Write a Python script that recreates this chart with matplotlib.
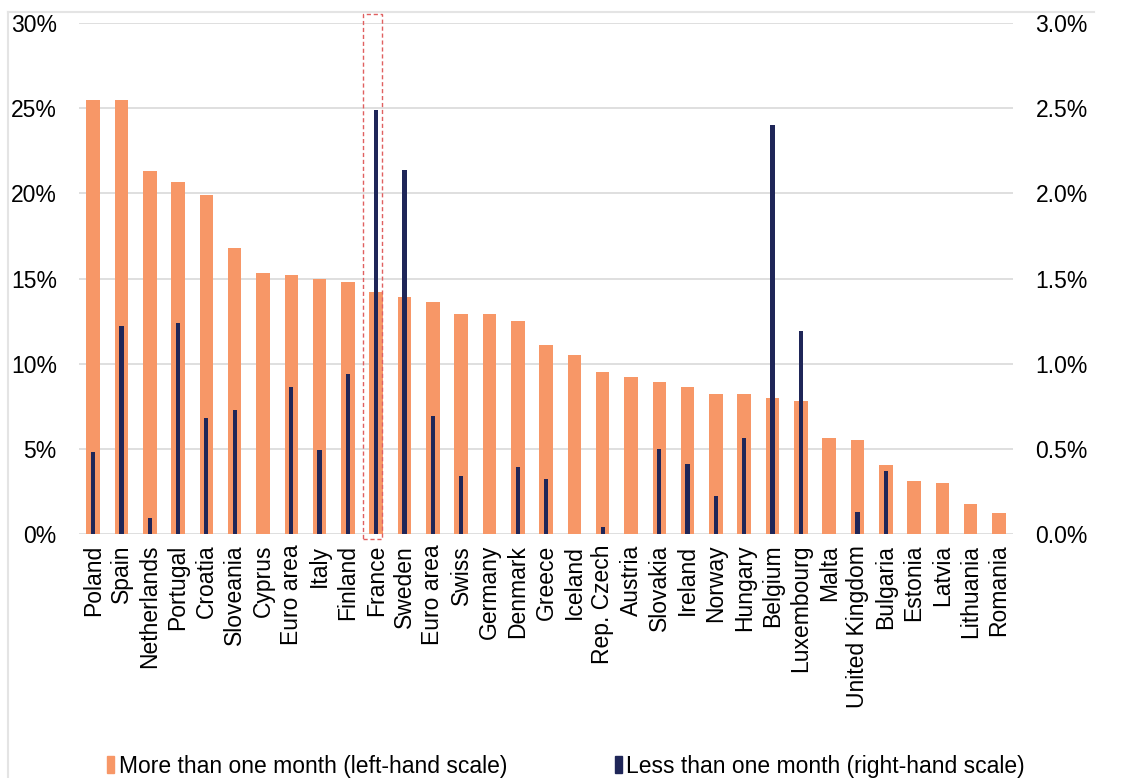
import matplotlib
matplotlib.use("Agg")
import matplotlib.pyplot as plt
from matplotlib.patches import Rectangle, Patch
from matplotlib.lines import Line2D
from matplotlib.ticker import FuncFormatter

plt.rcParams['font.family'] = ['Liberation Sans', 'DejaVu Sans']

countries = ["Poland", "Spain", "Netherlands", "Portugal", "Croatia", "Sloveania",
             "Cyprus", "Euro area", "Italy", "Finland", "France", "Sweden",
             "Euro area", "Swiss", "Germany", "Denmark", "Greece", "Iceland",
             "Rep. Czech", "Austria", "Slovakia", "Ireland", "Norway", "Hungary",
             "Belgium", "Luxembourg", "Malta", "United Kingdom", "Bulgaria",
             "Estonia", "Latvia", "Lithuania", "Romania"]

# more than one month, % (left-hand scale)
more_month = [25.5, 25.5, 21.3, 20.7, 19.9, 16.8, 15.3, 15.2, 15.0, 14.8, 14.2,
              13.9, 13.6, 12.9, 12.9, 12.5, 11.1, 10.5, 9.5, 9.2, 8.9, 8.6, 8.2,
              8.2, 8.0, 7.8, 5.6, 5.5, 4.05, 3.07, 3.0, 1.72, 1.24]

# less than one month, % (right-hand scale)
less_month = [0.48, 1.22, 0.09, 1.24, 0.68, 0.73, 0.0, 0.86, 0.49, 0.94, 2.49,
              2.14, 0.69, 0.34, 0.0, 0.39, 0.32, 0.0, 0.04, 0.0, 0.50, 0.41, 0.22,
              0.56, 2.40, 1.19, 0.0, 0.13, 0.37, 0.0, 0.0, 0.0, 0.0]

orange = "#F79767"
navy = "#1F2658"
fs = 16.5

fig = plt.figure(figsize=(11.22, 7.78), dpi=100)
ax = fig.add_axes([0.0704, 0.314, 0.8326, 0.656])
x = list(range(len(countries)))

ax.bar(x, more_month, width=0.48, color=orange, zorder=2)
ax.set_ylim(0, 30)
ax.set_xlim(-0.5, 32.5)
ax.set_yticks(range(0, 31, 5))
ax.yaxis.set_major_formatter(FuncFormatter(lambda v, p: f"{v:.0f}%"))
ax.grid(axis='y', color='#d9d9d9', linewidth=1.2, zorder=0)
ax.set_axisbelow(True)
ax.set_xticks(x)
ax.set_xticklabels(countries, rotation=90, fontsize=fs)
ax.tick_params(axis='both', length=0, labelsize=fs, colors='black')
ax.tick_params(axis='y', pad=16)
ax.tick_params(axis='x', pad=8)
for s in ax.spines.values():
    s.set_visible(False)

ax2 = ax.twinx()
ax2.bar(x, less_month, width=0.15, color=navy, zorder=3)
ax2.set_ylim(0, 3)
ax2.set_yticks([0, 0.5, 1.0, 1.5, 2.0, 2.5, 3.0])
ax2.yaxis.set_major_formatter(FuncFormatter(lambda v, p: f"{v:.1f}%"))
ax2.tick_params(axis='y', length=0, labelsize=fs, pad=16)
for s in ax2.spines.values():
    s.set_visible(False)

# dashed highlight box around France
ax.add_patch(Rectangle((9.54, -0.3), 0.68, 30.85, fill=False, edgecolor='#E06060',
                       linestyle=(0, (3, 2)), linewidth=1.0, clip_on=False, zorder=5))

# light frame at top and left of the figure
fig.add_artist(Line2D([8 / 1122, 1094 / 1122], [1 - 12 / 778, 1 - 12 / 778],
                      color='#e4e4e4', linewidth=1.5))
fig.add_artist(Line2D([8 / 1122, 8 / 1122], [0, 1 - 12 / 778],
                      color='#e4e4e4', linewidth=1.5))

handles = [Patch(color=orange), Patch(color=navy)]
labels = ["More than one month (left-hand scale)", "Less than one month (right-hand scale)"]
fig.legend(handles, labels, loc='center', bbox_to_anchor=(566 / 1122, 1 - 766 / 778),
           ncol=2, frameon=False, fontsize=fs, handlelength=0.3, handleheight=0.75,
           handletextpad=0.2, columnspacing=4.7)

fig.savefig("out.png", dpi=100)
